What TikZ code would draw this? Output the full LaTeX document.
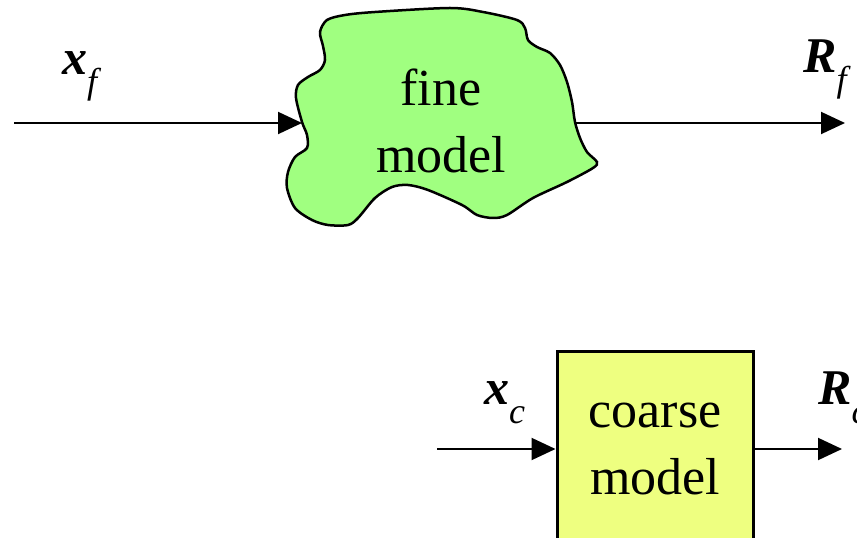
\documentclass[tikz,border=0pt]{standalone}
\usepackage{fontspec}
\setmainfont{Liberation Serif}
\usetikzlibrary{arrows.meta}
\newcommand\varsub[2]{\textbf{\textit{#1}}\raisebox{-19pt}{\fontsize{36}{36}\selectfont\itshape #2}}
\begin{document}
\begin{tikzpicture}[x=1pt,y=1pt,
  sig/.style = {line width = 2pt, -{Triangle[length=24pt,width=22pt]}},
  lbl/.style = {anchor = base west, inner sep = 0pt, font = \fontsize{50}{50}\selectfont},
  modtext/.style = {align = center, inner sep = 0pt, font = \fontsize{52}{67}\selectfont}]
\clip (0,0) rectangle (857,538);
\definecolor{finecol}{RGB}{160,255,128}
\definecolor{coarsecol}{RGB}{238,255,128}
% fine model
\draw [fill = finecol, draw = black, line width = 2.5pt] plot [smooth cycle, tension = 0.5] coordinates {
  (327,518) (345,523) (375,526) (450,530) (483,526) (517,518) (525,510) (528,498)
  (537,491) (550,485) (560,473) (567,456) (572,436) (575,416) (580,400) (587,386)
  (597,376) (593,370) (567,356) (533,340) (507,323) (493,320) (477,323) (462,333)
  (428,348) (408,353) (392,351) (375,340) (358,320) (348,313) (328,313) (312,318)
  (295,330) (287,350) (288,366) (295,381) (307,390) (307,403) (302,416) (296,440)
  (298,453) (308,461) (320,468) (325,478) (323,492) (320,506)};
\node[modtext] (fine) at (441,417) {fine\\model};
\coordinate (finein) at (302,415);
\coordinate (fineout) at (575,415);
\coordinate (xfstart) at (14,415);
\coordinate (rfend) at (845,415);
\draw[sig] (xfstart) -- (finein);
\draw[sig] (fineout) -- (rfend);
\node[lbl] (xf) at (62,463) {\varsub{x}{f}};
\node[lbl] (rf) at (803,465) {\varsub{R}{f}};
% coarse model
\node[draw, fill = coarsecol, line width = 3pt, minimum width = 196pt, minimum height = 194pt, modtext] (coarse) at (655,89) {coarse\\model};
\coordinate (xcstart) at (437,89);
\coordinate (rcend) at (842,89);
\draw[sig] (xcstart) -- (coarse.west);
\draw[sig] (coarse.east) -- (rcend);
\node[lbl] (xc) at (484,133) {\varsub{x}{c}};
\node[lbl] (rc) at (818,133) {\varsub{R}{c}};
\end{tikzpicture}
\end{document}
